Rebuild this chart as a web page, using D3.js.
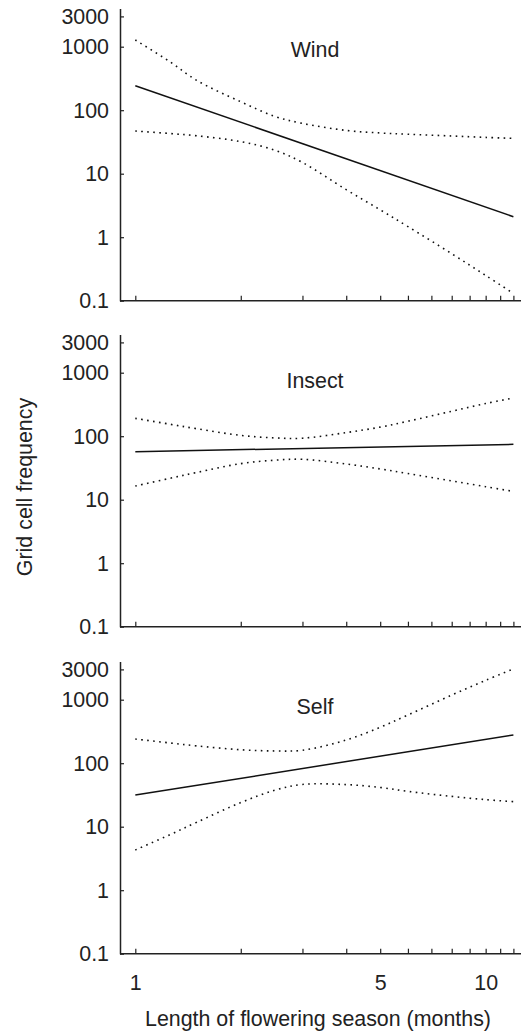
<!DOCTYPE html>
<html>
<head>
<meta charset="utf-8">
<script src="https://cdn.jsdelivr.net/npm/d3@7"></script>
<style>
  body { margin: 0; background: #fff; }
  svg { display: block; font-family: "Liberation Sans", Arial, sans-serif; }
  .axis path, .axis line { stroke: #222; }
  .axis text { font-size: 21.4px; fill: #222; }
</style>
</head>
<body>
<div id="chart"></div>
<script>
// data
const panelNames = ["Wind", "Insect", "Self"];
const months = [1, 1.25, 1.5, 2, 2.5, 3, 4, 5, 6, 8, 10, 12];
const fitMonths = [1, 12];

const windFit   = [243, 2.1];
const windUpper = [1275, 590, 293, 136, 80, 62, 48, 43.8, 41.8, 39.3, 37.3, 36];
const windLower = [47, 43, 39.5, 32, 23.5, 15, 5.6, 2.7, 1.47, 0.55, 0.25, 0.13];

const insectFit   = [57, 74.5];
const insectUpper = [191, 155, 131, 103, 94, 93, 114, 139, 172, 247, 327, 400];
const insectLower = [16.4, 21.6, 26.9, 37, 41.9, 43.3, 36.5, 30.5, 25.8, 19.8, 16, 13.5];

const selfFit   = [31.5, 278];
const selfUpper = [240, 209, 187, 163, 156, 160, 232, 368, 575, 1183, 2018, 3050];
const selfLower = [4.3, 7.4, 11.8, 24, 37.5, 46.3, 46, 41.5, 36, 30, 26.7, 24.8];

const yTicks = [0.1, 1, 10, 100, 1000, 3000];
const xTicks = [1, 2, 3, 4, 5, 6, 7, 8, 9, 10, 11, 12];
const xTickLabels = [1, 5, 10];

const fits = [windFit, insectFit, selfFit];
const uppers = [windUpper, insectUpper, selfUpper];
const lowers = [windLower, insectLower, selfLower];

// layout
const W = 521, H = 1032;
const left = 120, right = 521;
const bottoms = [300.7, 626.7, 953.7];
const decade = 63.5;
const titleDrop = [48.5, 53.5, 52.5]; // below top of each y axis
const fontSize = 21.4;

const svg = d3.select("#chart").append("svg")
  .attr("width", W).attr("height", H);

const x = d3.scaleLog().domain([1, 12]).range([135.3, 513.4]);

const lineGen = d3.line()
  .x(d => x(d[0]))
  .curve(d3.curveCatmullRom.alpha(0.5));

panelNames.forEach((name, i) => {
  const b = bottoms[i];
  const y = d3.scaleLog().domain([0.1, 4000])
    .range([b, b - decade * Math.log10(40000)]);
  lineGen.y(d => y(d[1]));

  const g = svg.append("g");

  // y axis
  const ya = g.append("g").attr("class", "axis")
    .attr("transform", `translate(${left},0)`)
    .call(d3.axisLeft(y).tickValues(yTicks)
      .tickSizeInner(-4).tickSizeOuter(0).tickPadding(11)
      .tickFormat(d => String(d)));
  ya.select(".domain").attr("stroke-width", 1.5);
  ya.selectAll(".tick line").attr("stroke-width", 1.2);

  // x axis
  const xa = g.append("g").attr("class", "axis")
    .attr("transform", `translate(0,${b})`)
    .call(d3.axisBottom(x).tickValues(xTicks)
      .tickSizeInner(-5).tickSizeOuter(0).tickPadding(21)
      .tickFormat(d => (i === 2 && xTickLabels.includes(d)) ? String(d) : ""));
  xa.select(".domain").remove();
  xa.selectAll(".tick line").attr("stroke-width", 1.2);
  xa.append("line")
    .attr("x1", left).attr("x2", right)
    .attr("stroke", "#222").attr("stroke-width", 1.5);

  // confidence bands (dotted)
  [uppers[i], lowers[i]].forEach(vals => {
    g.append("path")
      .datum(months.map((m, k) => [m, vals[k]]))
      .attr("d", lineGen)
      .attr("fill", "none")
      .attr("stroke", "#111")
      .attr("stroke-width", 1.6)
      .attr("stroke-dasharray", "1.6,4.4");
  });

  // fitted line
  g.append("path")
    .datum(fitMonths.map((m, k) => [m, fits[i][k]]))
    .attr("d", d3.line().x(d => x(d[0])).y(d => y(d[1])))
    .attr("fill", "none")
    .attr("stroke", "#111")
    .attr("stroke-width", 1.5);

  // panel title
  g.append("text")
    .attr("x", 315)
    .attr("y", y.range()[1] + titleDrop[i])
    .attr("text-anchor", "middle")
    .attr("font-size", fontSize)
    .attr("fill", "#222")
    .text(name);
});

svg.append("text")
  .attr("x", 318)
  .attr("y", 1025.5)
  .attr("text-anchor", "middle")
  .attr("font-size", fontSize)
  .attr("fill", "#222")
  .text("Length of flowering season (months)");

svg.append("text")
  .attr("transform", "translate(32,487) rotate(-90)")
  .attr("text-anchor", "middle")
  .attr("font-size", fontSize)
  .attr("fill", "#222")
  .text("Grid cell frequency");
</script>
</body>
</html>
